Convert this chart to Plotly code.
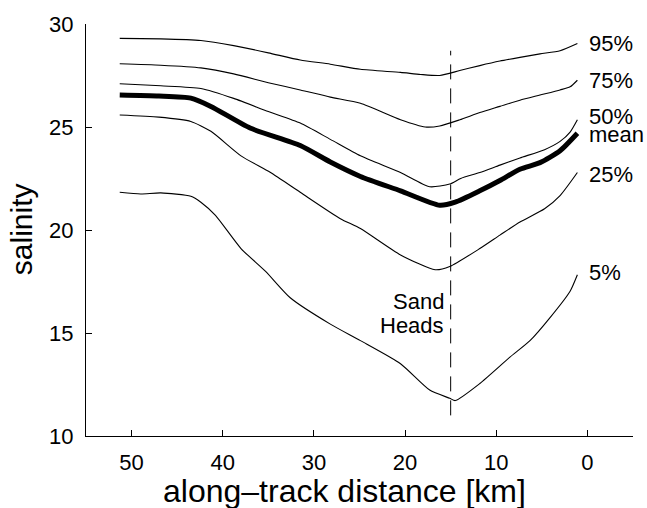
import plotly.graph_objects as go

# along-track distance [km] sample positions for each curve
x_p95 = [51.3, 46.8, 42.4, 38.8, 35.0, 31.5, 28.2, 24.9, 20.5, 18.3, 16.2, 14.0, 11.8, 9.6, 7.4, 5.2, 3.0, 1.1]
y_p95 = [29.3, 29.28, 29.2, 28.95, 28.6, 28.25, 28.05, 27.8, 27.65, 27.55, 27.5, 27.74, 27.98, 28.2, 28.38, 28.55, 28.7, 29.05]

x_p75 = [51.3, 46.8, 42.4, 38.8, 35.0, 31.5, 28.2, 24.9, 20.5, 17.8, 16.2, 14.0, 11.8, 9.6, 7.4, 5.2, 3.0, 1.9, 1.1]
y_p75 = [28.07, 28.0, 27.87, 27.58, 27.15, 26.8, 26.45, 26.15, 25.35, 25.0, 25.05, 25.35, 25.7, 26.0, 26.3, 26.55, 26.8, 26.95, 27.27]

x_p50 = [51.3, 46.8, 42.4, 38.8, 35.0, 31.5, 28.2, 24.9, 20.5, 17.3, 15.1, 13.9, 11.8, 9.6, 7.4, 4.7, 3.0, 1.9, 1.1]
y_p50 = [27.1, 27.0, 26.87, 26.39, 25.75, 25.19, 24.4, 23.6, 22.79, 22.1, 22.23, 22.5, 22.79, 23.15, 23.5, 23.9, 24.3, 24.75, 25.35]

x_mean = [51.3, 47.0, 43.5, 41.3, 37.0, 31.5, 28.2, 24.9, 20.5, 16.2, 14.5, 11.8, 9.6, 7.4, 5.2, 3.0, 1.1]
y_mean = [26.55, 26.5, 26.4, 26.0, 24.95, 24.1, 23.3, 22.6, 21.9, 21.2, 21.35, 21.9, 22.4, 22.95, 23.27, 23.85, 24.7]

x_p25 = [51.3, 47.0, 43.5, 41.3, 38.0, 34.8, 31.5, 27.1, 24.9, 20.5, 16.7, 15.1, 11.8, 9.6, 7.4, 4.7, 3.0, 1.1]
y_p25 = [25.58, 25.48, 25.27, 24.79, 23.6, 22.8, 21.83, 20.55, 20.07, 18.79, 18.07, 18.23, 19.1, 19.75, 20.39, 21.03, 21.67, 22.79]

x_p5 = [51.3, 49.0, 46.8, 43.5, 42.4, 40.8, 38.0, 35.3, 32.6, 28.2, 24.9, 20.5, 17.3, 15.1, 14.5, 11.8, 8.5, 6.3, 4.1, 1.9, 1.1]
y_p5 = [21.83, 21.75, 21.8, 21.64, 21.35, 20.71, 19.1, 17.99, 16.71, 15.43, 14.63, 13.51, 12.23, 11.83, 11.72, 12.55, 13.83, 14.63, 15.75, 17.03, 17.83]

x_sandheads = [15.0, 15.0]
y_sandheads = [11.0, 28.7]

curve_labels = ["95%", "75%", "50%", "mean", "25%", "5%"]
label_y = [29.03, 27.25, 25.5, 24.62, 22.69, 17.94]
label_x = 0.1

x_ticks = [0, 10, 20, 30, 40, 50]
y_ticks = [10, 15, 20, 25, 30]

FONT = "Liberation Sans, Arial, Helvetica, sans-serif"

fig = go.Figure()
thin = dict(color="black", width=1.1, shape="spline", smoothing=0.6)
for xs, ys in [(x_p95, y_p95), (x_p75, y_p75), (x_p50, y_p50), (x_p25, y_p25), (x_p5, y_p5)]:
    fig.add_trace(go.Scatter(x=xs, y=ys, mode="lines", line=thin, showlegend=False, hoverinfo="skip"))
fig.add_trace(go.Scatter(x=x_mean, y=y_mean, mode="lines",
                         line=dict(color="black", width=5, shape="spline", smoothing=0.6),
                         showlegend=False, hoverinfo="skip"))
fig.add_trace(go.Scatter(x=x_sandheads, y=y_sandheads, mode="lines",
                         line=dict(color="black", width=1, dash="15px,9px"),
                         showlegend=False, hoverinfo="skip"))

for txt, yy in zip(curve_labels, label_y):
    fig.add_annotation(x=label_x, y=yy, text=txt, showarrow=False, xanchor="left", yanchor="middle",
                       font=dict(family=FONT, size=22, color="black"))

fig.add_annotation(x=15.55, y=16.55, text="Sand", showarrow=False, xanchor="right", yanchor="middle",
                   font=dict(family=FONT, size=22, color="black"))
fig.add_annotation(x=15.55, y=15.35, text="Heads", showarrow=False, xanchor="right", yanchor="middle",
                   font=dict(family=FONT, size=22, color="black"))

# axis titles
fig.add_annotation(x=0.4717, y=-0.1346, xref="paper", yref="paper", text="along\u2013track distance [km]",
                   showarrow=False, xanchor="center", yanchor="middle",
                   font=dict(family=FONT, size=32, color="black"))
fig.add_annotation(x=-0.1188, y=0.502, xref="paper", yref="paper", text="salinity", textangle=-90,
                   showarrow=False, xanchor="center", yanchor="middle",
                   font=dict(family=FONT, size=30, color="black"))

fig.update_layout(
    width=647, height=508,
    margin=dict(l=86, r=14, t=20, b=72),
    paper_bgcolor="white", plot_bgcolor="white",
    font=dict(family=FONT, size=22, color="black"),
    xaxis=dict(range=[55, -5], tickvals=x_ticks, ticks="inside", ticklen=6, tickwidth=1,
               tickcolor="black", showline=True, linecolor="black", linewidth=1, showgrid=False,
               zeroline=False, ticklabelstandoff=7),
    yaxis=dict(range=[10, 30], tickvals=y_ticks, ticks="inside", ticklen=6, tickwidth=1,
               tickcolor="black", showline=True, linecolor="black", linewidth=1, showgrid=False,
               zeroline=False, ticklabelstandoff=7),
)

fig.write_html("out.html")
